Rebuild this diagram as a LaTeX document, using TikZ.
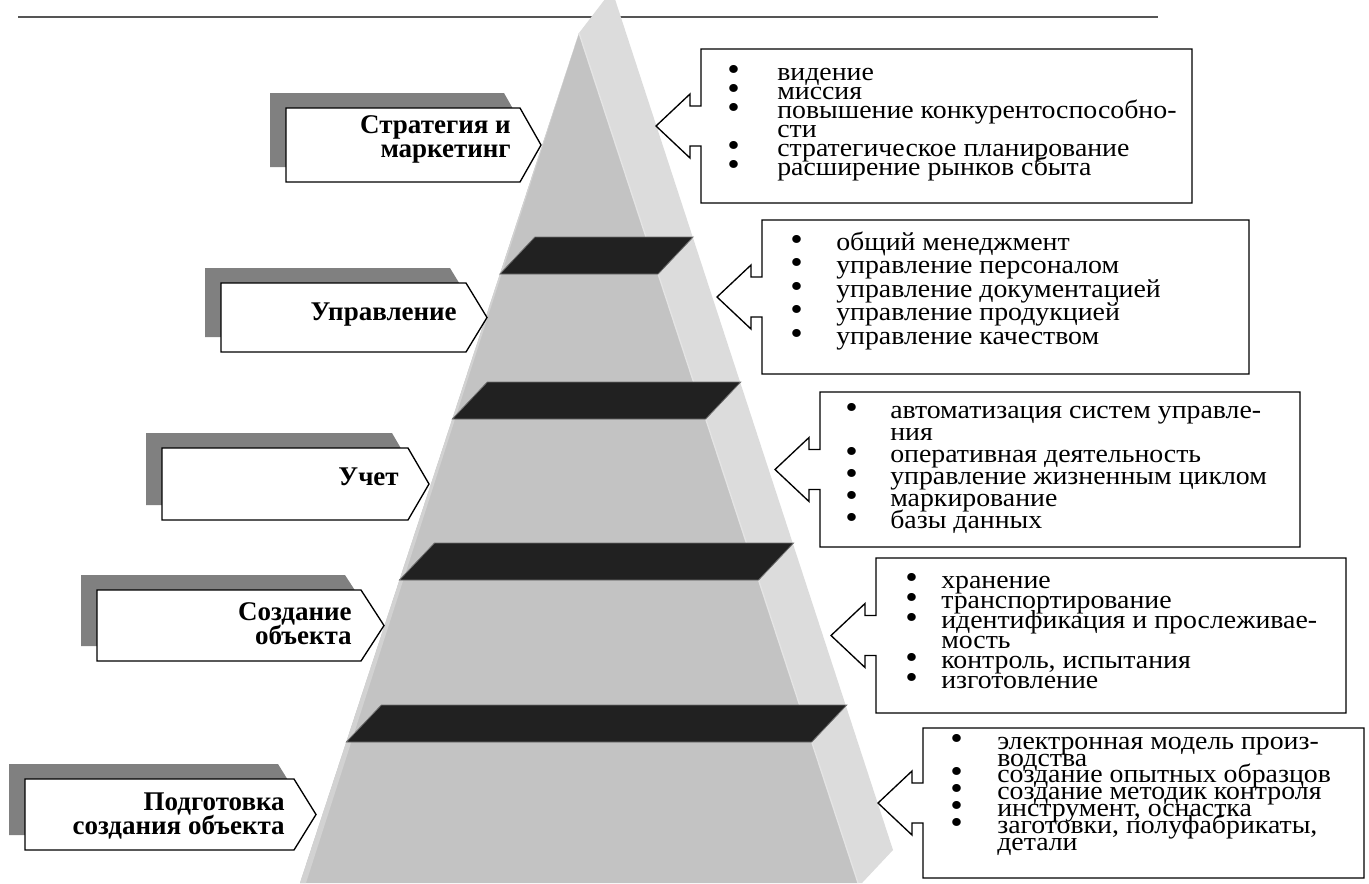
\documentclass[tikz,border=0pt]{standalone}
\usepackage{fontspec}
\setmainfont{Liberation Serif}
\newfontfamily\itemfont{Liberation Serif}[FakeStretch=1.07]
\definecolor{frontface}{HTML}{C3C3C3}
\definecolor{sideface}{HTML}{DCDCDC}
\definecolor{edgelight}{HTML}{D2D2D2}
\definecolor{plank}{HTML}{212121}
\definecolor{plankedge}{HTML}{6E6E6E}
\definecolor{shade}{HTML}{808080}
\definecolor{rulegray}{HTML}{555555}
\tikzset{line join=miter,
  labelbox/.style={draw=black,fill=white,line width=1pt},
  shadowbox/.style={fill=shade},
  listbox/.style={draw=black,fill=white,line width=1pt},
  levelname/.style={anchor=north east,inner sep=0pt,align=right,
    font={\fontsize{20.25}{18}\selectfont\bfseries\lineskiplimit=-\maxdimen}},
  itemlist/.style 2 args={anchor=north west,inner sep=0pt,align=left,
    execute at begin node={\gdef\bw{#1}},
    font={\itemfont\fontsize{19.5}{#2}\selectfont\lineskiplimit=-\maxdimen}}}
\newcommand\bl{\makebox[\bw][l]{\fontsize{25}{25}\selectfont\textbullet}}
\newcommand\cn{\hspace*{\bw}}
\begin{document}
\begin{tikzpicture}[x=.75pt,y=-.75pt]
\path[use as bounding box](0,0)rectangle(1369,883);\clip(0,0)rectangle(1369,883);
\draw[rulegray,line width=1.5pt](18,17)--(1158,17);
% pyramid
\fill[sideface](579,33)--(612,-10)--(893,850)--(862,883)--(858,883)--cycle;
\fill[frontface](579,33)--(858,883)--(300,883)--cycle;
\fill[edgelight](579,33)--(300,883)--(306,883)--cycle;
\draw[white!55!frontface,line width=1pt](579,33)--(858,883);
\foreach \yb in {274,419,580,742}
  \filldraw[fill=plank,draw=plankedge,line width=.6pt]({579-0.3282*(\yb-33)},\yb)--++(35,-37)
    --({614+0.3282*(\yb-33)},{\yb-37})--({579+0.3282*(\yb-33)},\yb)--cycle;
% level labels
\foreach \l/\t/\r/\p/\b in {286/108/520/541/182,221/283/466/487/352,162/448/408/429/520,97/590/361/384/661,25/779/294/316/850}{
  \fill[shadowbox,shift={(-16,-15)}](\l,\t)--(\r,\t)--(\p,{(\t+\b)/2})--(\r,\b)--(\l,\b)--cycle;
  \draw[labelbox](\l,\t)--(\r,\t)--(\p,{(\t+\b)/2})--(\r,\b)--(\l,\b)--cycle;}
% callouts
\foreach \l/\t/\r/\b in {701/49/1192/203,762/220/1249/374,820/392/1300/547,876/558/1346/713,923/728/1364/878}
  \draw[listbox](\l,\t)--(\r,\t)--(\r,\b)--(\l,\b)--(\l,{(\t+\b)/2+20})--++(-11,0)--++(0,12)--({\l-45},{(\t+\b)/2})
    --({\l-11},{(\t+\b)/2-32})--++(0,12)--(\l,{(\t+\b)/2-20})--cycle;
\node[levelname](strategy)at(511,113){\rule{0pt}{15pt}Стратегия и\\маркетинг};
\node[levelname](management)at(457,300){\rule{0pt}{15pt}Управление};
\node[levelname](accounting)at(399,465){\rule{0pt}{15pt}Учет};
\node[levelname](creation)at(352,600){\rule{0pt}{15pt}Создание\\объекта};
\node[levelname](preparation)at(285,790){\rule{0pt}{15pt}Подготовка\\создания объекта};
\node[itemlist={37.5pt}{14.25pt}](strategyitems)at(727,60){\rule{0pt}{15pt}\bl видение\\\bl миссия\\\bl повышение конкурентоспособно-\\\cn сти\\\bl стратегическое планирование\\\bl расширение рынков сбыта};
\node[itemlist={34.5pt}{17.6pt}](managementitems)at(790,230){\rule{0pt}{15pt}\bl общий менеджмент\\\bl управление персоналом\\\bl управление документацией\\\bl управление продукцией\\\bl управление качеством};
\node[itemlist={33.75pt}{16.5pt}](accountingitems)at(845,398){\rule{0pt}{15pt}\bl автоматизация систем управле-\\\cn ния\\\bl оперативная деятельность\\\bl управление жизненным циклом\\\bl маркирование\\\bl базы данных};
\node[itemlist={27pt}{15pt}](creationitems)at(905,568){\rule{0pt}{15pt}\bl хранение\\\bl транспортирование\\\bl идентификация и прослеживае-\\\cn мость\\\bl контроль, испытания\\\bl изготовление};
\node[itemlist={35.25pt}{12.6pt}](preparationitems)at(950,729){\rule{0pt}{15pt}\bl электронная модель произ-\\\cn водства\\\bl создание опытных образцов\\\bl создание методик контроля\\\bl инструмент, оснастка\\\bl заготовки, полуфабрикаты,\\\cn детали};
\end{tikzpicture}
\end{document}
